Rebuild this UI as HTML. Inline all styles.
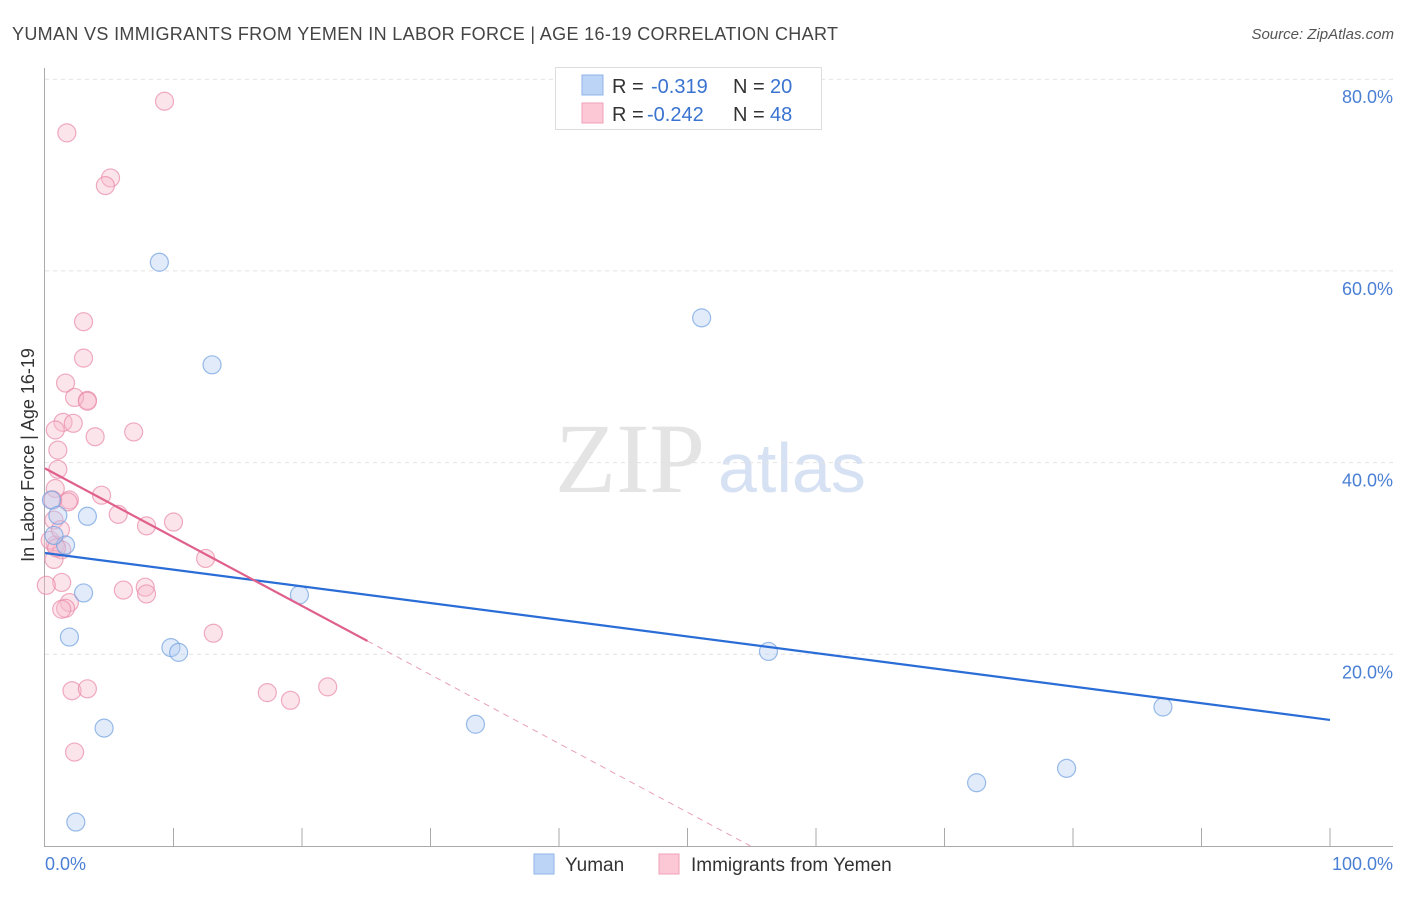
<!DOCTYPE html>
<html><head><meta charset="utf-8"><style>
body{margin:0;background:#fff;font-family:"Liberation Sans",sans-serif;}
</style></head><body>
<svg id="c" width="1406" height="892" xmlns="http://www.w3.org/2000/svg" font-family="Liberation Sans, sans-serif">
<text x="12" y="40" font-size="18" fill="#444" textLength="826">YUMAN VS IMMIGRANTS FROM YEMEN IN LABOR FORCE | AGE 16-19 CORRELATION CHART</text>
<text x="1394" y="39" font-size="15" fill="#555" font-style="italic" text-anchor="end">Source: ZipAtlas.com</text>
<text x="555" y="492" font-size="100" fill="#e4e4e4" font-family="Liberation Serif, serif">ZIP</text>
<text x="718" y="492" font-size="70" fill="#d6e2f3">atlas</text>
<g id="grid"></g><g id="axes"></g><g id="pts"></g><g id="trend"></g>
<text transform="translate(34,455) rotate(-90)" font-size="18" fill="#333" text-anchor="middle">In Labor Force | Age 16-19</text>
<text x="45" y="870" font-size="18" fill="#4a7fd4">0.0%</text>
<text x="1393" y="870" font-size="18" fill="#4a7fd4" text-anchor="end">100.0%</text>
<g>
<rect x="555.5" y="67.5" width="266" height="62" fill="#fff" stroke="#ddd"/>
<rect x="582" y="75" width="21" height="20" fill="#bcd4f6" stroke="#8fb3e8"/>
<rect x="582" y="103" width="21" height="20" fill="#fcc8d6" stroke="#f0a0b8"/>
<text x="612" y="93" font-size="20" fill="#333">R = </text><text x="651" y="93" font-size="20" fill="#3a73d0">-0.319</text>
<text x="733" y="93" font-size="20" fill="#333">N = </text><text x="770" y="93" font-size="20" fill="#3a73d0">20</text>
<text x="612" y="121" font-size="20" fill="#333">R = </text><text x="647" y="121" font-size="20" fill="#3a73d0">-0.242</text>
<text x="733" y="121" font-size="20" fill="#333">N = </text><text x="770" y="121" font-size="20" fill="#3a73d0">48</text>
</g>
<g>
<rect x="534" y="854" width="20" height="20" fill="#bcd4f6" stroke="#8fb3e8"/>
<text x="565" y="871" font-size="19" fill="#333">Yuman</text>
<rect x="659" y="854" width="20" height="20" fill="#fcc8d6" stroke="#f0a0b8"/>
<text x="691" y="871" font-size="19" fill="#333">Immigrants from Yemen</text>
</g>
</svg>
<script>
const yTicks=[20,40,60,80];
const yTickLabels=["20.0%","40.0%","60.0%","80.0%"];
const blueX=[8.9,13.0,51.1,3.3,0.5,1.0,1.6,0.7,3.0,1.9,9.8,10.4,19.8,4.6,33.5,56.3,87.0,72.5,79.5,2.4];
const blueY=[60.9,50.2,55.1,34.4,36.1,34.5,31.4,32.4,26.4,21.8,20.7,20.2,26.2,12.3,12.7,20.3,14.5,6.6,8.1,2.5];
const pinkX=[9.3,1.7,5.1,4.7,3.0,3.0,1.6,3.3,2.3,3.3,1.4,2.2,0.8,3.9,6.9,1.0,1.0,0.8,4.4,1.9,1.8,0.6,5.7,7.9,10.0,0.7,0.8,1.3,0.7,12.5,1.3,0.1,6.1,7.8,7.9,1.9,1.6,1.3,13.1,2.1,3.3,17.3,19.1,22.0,2.3,0.4,0.9,1.2];
const pinkY=[77.7,74.4,69.7,68.9,54.7,50.9,48.3,46.5,46.8,46.4,44.2,44.1,43.4,42.7,43.2,41.3,39.3,37.3,36.6,36.1,35.9,36.1,34.6,33.4,33.8,34.0,31.4,30.9,29.9,30.0,27.5,27.2,26.7,27.0,26.3,25.4,24.8,24.7,22.2,16.2,16.4,16.0,15.2,16.6,9.8,31.9,31.1,33.0];
const blueTrend=[30.57,13.15];
const pinkTrend=[39.4,0];
const pinkSolidEnd=25.1;
const NS="http://www.w3.org/2000/svg";
const X=v=>45+v*12.85, Y=v=>846-v*9.585;
function mk(t,a,p){const e=document.createElementNS(NS,t);for(const k in a)e.setAttribute(k,a[k]);document.getElementById(p).appendChild(e);return e;}
yTicks.forEach((t,i)=>{
 const l=mk('line',{x1:45,x2:1393,y1:Y(t),y2:Y(t),stroke:'#e2e2e2','stroke-dasharray':'4,4'},'grid');
 
 
 const tx=mk('text',{x:1393,y:Y(t)+24,'font-size':18,fill:'#4a7fd4','text-anchor':'end'},'grid');
 tx.textContent=yTickLabels[i];
 
 
});
let a=mk('line',{x1:44.5,x2:44.5,y1:68,y2:846,stroke:'#aaa'},'axes');


a=mk('line',{x1:44,x2:1393,y1:846.5,y2:846.5,stroke:'#aaa'},'axes');


for(let k=1;k<=10;k++){const t=mk('line',{x1:X(k*10),x2:X(k*10),y1:828,y2:846,stroke:'#aaa'},'axes');
 
 }
function dots(xs,ys,fill,stroke,name){xs.forEach((x,i)=>{const c=mk('circle',{cx:X(x),cy:Y(ys[i]),r:9,fill:fill,'fill-opacity':0.4,stroke:stroke,'stroke-opacity':0.7,'stroke-width':1.2},'pts');
 
 });}
dots(pinkX,pinkY,'#f8bccd','#e889a8','yemen-point');
dots(blueX,blueY,'#b4cdf2','#6f9fe0','yuman-point');
let l=mk('line',{x1:X(0),y1:Y(blueTrend[0]),x2:X(100),y2:Y(blueTrend[1]),stroke:'#2a6dd6','stroke-width':2.2},'trend');


const ps=(pinkTrend[1]-pinkTrend[0])/54.9;
l=mk('line',{x1:X(0),y1:Y(pinkTrend[0]),x2:X(pinkSolidEnd),y2:Y(pinkTrend[0]+ps*pinkSolidEnd),stroke:'#e0608c','stroke-width':2.2},'trend');


l=mk('line',{x1:X(pinkSolidEnd),y1:Y(pinkTrend[0]+ps*pinkSolidEnd),x2:X(54.9),y2:Y(pinkTrend[1]),stroke:'#e8a0b8','stroke-width':1,'stroke-dasharray':'6,5'},'trend');


</script>
</body></html>
